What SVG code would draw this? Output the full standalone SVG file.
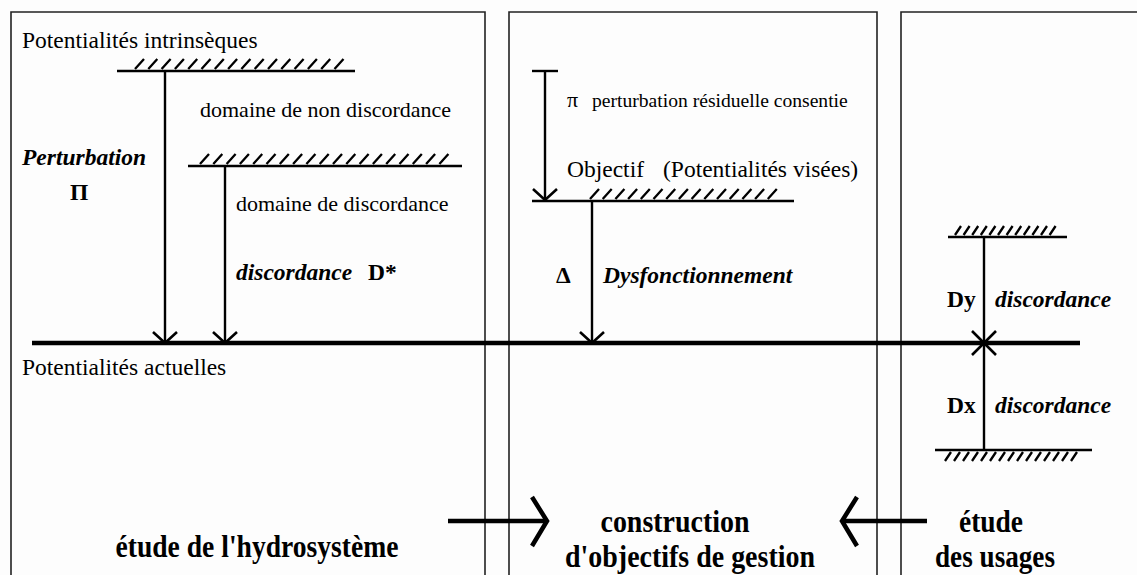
<svg xmlns="http://www.w3.org/2000/svg" width="1137" height="575" viewBox="0 0 1137 575">
  <style>
    .frame { fill: none; stroke: #222; stroke-width: 1.6; }
    .ln { fill: none; stroke: #000; stroke-width: 2.4; }
    .main { fill: none; stroke: #000; stroke-width: 4.5; }
    .hatch { fill: none; stroke: #000; stroke-width: 2.3; }
    .head { fill: none; stroke: #000; stroke-width: 2.6; }
    .big { fill: none; stroke: #000; stroke-width: 4.5; }
    .t { font-size: 23.5px; }
    .d { font-size: 22px; }
    .s { font-size: 19.6px; }
    .bi { font-size: 23.5px; font-weight: bold; font-style: italic; }
    .b { font-size: 23.5px; font-weight: bold; }
    .lab { font-size: 31px; font-weight: bold; text-anchor: middle; }
  </style>

  <rect x="0" y="0" width="1137" height="575" fill="#fdfdfd"/>

  <!-- three panels, open at the bottom -->
  <g id="panel-hydrosysteme">
    <path class="frame" d="M11,580 V12 H485 V580"/>
  </g>
  <g id="panel-objectifs">
    <path class="frame" d="M509,580 V12 H877 V580"/>
  </g>
  <g id="panel-usages">
    <path class="frame" d="M901,580 V12 H1140"/>
  </g>

  <g font-family="Liberation Serif, DejaVu Serif, serif" fill="#000">

  <!-- reference level: current potentialities -->
  <g id="niveau-actuel">
    <line class="main" x1="32" y1="343" x2="1080" y2="343"/>
    <text class="t" x="22" y="375">Potentialités actuelles</text>
  </g>

  <!-- intrinsic potentialities level -->
  <g id="niveau-intrinseque">
    <text class="t" x="22" y="48">Potentialités intrinsèques</text>
    <line class="ln" x1="117" y1="71" x2="355" y2="71"/>
    <path class="hatch" d="M135,69 l9,-10 m4.3,10 l9,-10 m4.3,10 l9,-10 m4.3,10 l9,-10 m4.3,10 l9,-10 m4.3,10 l9,-10 m4.3,10 l9,-10 m4.3,10 l9,-10 m4.3,10 l9,-10 m4.3,10 l9,-10 m4.3,10 l9,-10 m4.3,10 l9,-10 m4.3,10 l9,-10 m4.3,10 l9,-10 m4.3,10 l9,-10 m4.3,10 l9,-10"/>
  </g>

  <!-- discordance threshold -->
  <g id="seuil-discordance">
    <line class="ln" x1="188" y1="166" x2="462" y2="166"/>
    <path class="hatch" d="M200,164 l9,-10 m4.3,10 l9,-10 m4.3,10 l9,-10 m4.3,10 l9,-10 m4.3,10 l9,-10 m4.3,10 l9,-10 m4.3,10 l9,-10 m4.3,10 l9,-10 m4.3,10 l9,-10 m4.3,10 l9,-10 m4.3,10 l9,-10 m4.3,10 l9,-10 m4.3,10 l9,-10 m4.3,10 l9,-10 m4.3,10 l9,-10 m4.3,10 l9,-10 m4.3,10 l9,-10 m4.3,10 l9,-10 m4.3,10 l9,-10"/>
    <text class="d" x="200" y="117">domaine de non discordance</text>
    <text class="d" x="236" y="211">domaine de discordance</text>
  </g>

  <!-- objective level -->
  <g id="objectif">
    <line class="ln" x1="532" y1="71" x2="558" y2="71"/>
    <line class="ln" x1="532" y1="201" x2="794" y2="201"/>
    <path class="hatch" d="M590,199 l9,-10 m3.7,10 l9,-10 m3.7,10 l9,-10 m3.7,10 l9,-10 m3.7,10 l9,-10 m3.7,10 l9,-10 m3.7,10 l9,-10 m3.7,10 l9,-10 m3.7,10 l9,-10 m3.7,10 l9,-10 m3.7,10 l9,-10 m3.7,10 l9,-10 m3.7,10 l9,-10 m3.7,10 l9,-10 m3.7,10 l9,-10"/>
    <text class="d" x="567" y="107">π</text>
    <text class="s" x="592" y="107">perturbation résiduelle consentie</text>
    <text class="t" x="567" y="177">Objectif</text>
    <text class="t" x="663" y="177">(Potentialités visées)</text>
  </g>

  <!-- usage thresholds -->
  <g id="seuils-usages">
    <line class="ln" x1="948" y1="237" x2="1067" y2="237"/>
    <path class="hatch" d="M955,235 l6,-9 m2.6,9 l6,-9 m2.6,9 l6,-9 m2.6,9 l6,-9 m2.6,9 l6,-9 m2.6,9 l6,-9 m2.6,9 l6,-9 m2.6,9 l6,-9 m2.6,9 l6,-9 m2.6,9 l6,-9 m2.6,9 l6,-9 m2.6,9 l6,-9"/>
    <line class="ln" x1="935" y1="450" x2="1092" y2="450"/>
    <path class="hatch" d="M945,461 l6,-9 m3,9 l6,-9 m3,9 l6,-9 m3,9 l6,-9 m3,9 l6,-9 m3,9 l6,-9 m3,9 l6,-9 m3,9 l6,-9 m3,9 l6,-9 m3,9 l6,-9 m3,9 l6,-9 m3,9 l6,-9 m3,9 l6,-9 m3,9 l6,-9 m3,9 l6,-9"/>
  </g>

  <!-- connectors -->
  <g id="connecteurs">
    <!-- Perturbation -->
    <line class="ln" x1="165" y1="71" x2="165" y2="342"/>
    <path class="head" d="M153,332 L165,343 L177,332"/>
    <!-- discordance D* -->
    <line class="ln" x1="225" y1="166" x2="225" y2="342"/>
    <path class="head" d="M213,332 L225,343 L237,332"/>
    <!-- residual perturbation -->
    <line class="ln" x1="545" y1="71" x2="545" y2="200"/>
    <path class="head" d="M533,189 L545,200 L557,189"/>
    <!-- dysfunction -->
    <line class="ln" x1="592" y1="201" x2="592" y2="342"/>
    <path class="head" d="M580,332 L592,343 L604,332"/>
    <!-- Dy / Dx span -->
    <line class="ln" x1="984" y1="237" x2="984" y2="450"/>
    <path class="head" d="M972,331 L996,355 M996,331 L972,355"/>
    <!-- panel flows -->
    <line class="big" x1="448" y1="521" x2="546" y2="521"/>
    <path class="big" d="M532,497 L547,521 L532,546"/>
    <line class="big" x1="843" y1="521" x2="927" y2="521"/>
    <path class="big" d="M857,497 L842,521 L857,546"/>
  </g>

  <!-- annotations -->
  <g id="annotations">
    <text class="bi" x="22" y="165">Perturbation</text>
    <text class="b" x="70" y="200">Π</text>
    <text class="bi" x="236" y="280">discordance</text>
    <text class="b" x="368" y="280">D*</text>
    <text class="b" x="556" y="283">Δ</text>
    <text class="bi" x="603" y="283">Dysfonctionnement</text>
    <text class="b" x="947" y="307">Dy</text>
    <text class="bi" x="995" y="307">discordance</text>
    <text class="b" x="947" y="413">Dx</text>
    <text class="bi" x="995" y="413">discordance</text>
  </g>

  <!-- panel titles (tall, narrow bold face) -->
  <g id="titres">
    <text class="lab" x="257" y="557" textLength="283" lengthAdjust="spacingAndGlyphs">étude de l'hydrosystème</text>
    <text class="lab" x="675" y="532" textLength="149" lengthAdjust="spacingAndGlyphs">construction</text>
    <text class="lab" x="690" y="567" textLength="250" lengthAdjust="spacingAndGlyphs">d'objectifs de gestion</text>
    <text class="lab" x="991" y="532" textLength="64" lengthAdjust="spacingAndGlyphs">étude</text>
    <text class="lab" x="995" y="567" textLength="120" lengthAdjust="spacingAndGlyphs">des usages</text>
  </g>

  </g>
</svg>
